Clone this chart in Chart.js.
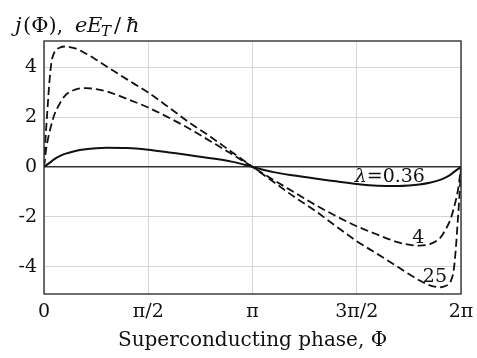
<!DOCTYPE html>
<html>
<head>
<meta charset="utf-8">
<script src="https://cdn.jsdelivr.net/npm/chart.js@4.4.0/dist/chart.umd.min.js"></script>
<style>
  html, body { margin: 0; padding: 0; background: #fff; }
  #wrap { width: 477px; height: 358px; }
</style>
</head>
<body>
<div id="wrap"><canvas id="chart" width="477" height="358"></canvas></div>
<script>
// phase in units of pi (0 .. 2)
const phase = [0, 0.005, 0.01, 0.015, 0.025, 0.035, 0.05, 0.075, 0.1, 0.15, 0.2, 0.25, 0.3, 0.4, 0.5, 0.6, 0.7, 0.8, 0.9, 1.0,
  1.1, 1.2, 1.3, 1.4, 1.5, 1.6, 1.7, 1.75, 1.8, 1.85, 1.9, 1.925, 1.95, 1.965, 1.975, 1.985, 1.99, 1.995, 2.0];

const lambda036 = [0, 0.03, 0.06, 0.09, 0.15, 0.21, 0.31, 0.43, 0.52, 0.64, 0.71, 0.75, 0.77, 0.76, 0.69, 0.58, 0.47, 0.35, 0.21, 0,
  -0.21, -0.35, -0.47, -0.58, -0.69, -0.76, -0.77, -0.75, -0.71, -0.64, -0.52, -0.43, -0.31, -0.21, -0.15, -0.09, -0.06, -0.03, 0];

const lambda4 = [0, 0.35, 0.7, 0.95, 1.35, 1.68, 2.1, 2.53, 2.85, 3.1, 3.16, 3.12, 3.03, 2.72, 2.38, 1.97, 1.52, 1.02, 0.52, 0,
  -0.52, -1.02, -1.52, -1.97, -2.38, -2.72, -3.03, -3.12, -3.16, -3.1, -2.85, -2.53, -2.1, -1.68, -1.35, -0.95, -0.7, -0.35, 0];

const lambda25 = [0, 0.83, 1.5, 2.1, 3.3, 4.15, 4.6, 4.78, 4.83, 4.75, 4.55, 4.3, 4.03, 3.5, 2.98, 2.38, 1.76, 1.2, 0.6, 0,
  -0.6, -1.2, -1.76, -2.38, -2.98, -3.5, -4.03, -4.3, -4.55, -4.75, -4.83, -4.78, -4.6, -4.15, -3.3, -2.1, -1.5, -0.83, 0];

const xTickValues = [0, 0.5, 1, 1.5, 2];
const xTickLabels = ['0', 'π/2', 'π', '3π/2', '2π'];
const yTickValues = [-4, -2, 0, 2, 4];

const FONT = '"DejaVu Serif", "Liberation Serif", serif';

function pts(values) {
  return phase.map((p, i) => ({ x: p, y: values[i] }));
}

const decorations = {
  id: 'decorations',
  afterDraw(chart) {
    const { ctx, chartArea, scales } = chart;
    ctx.save();
    // frame
    ctx.strokeStyle = '#333';
    ctx.lineWidth = 1.4;
    ctx.strokeRect(chartArea.left, chartArea.top, chartArea.right - chartArea.left, chartArea.bottom - chartArea.top);

    // y-axis title: j(Φ), eE_T/ħ  (pieces placed one by one, math-style spacing)
    ctx.fillStyle = '#111';
    ctx.textBaseline = 'alphabetic';
    const base = 32;
    const parts = [
      ['italic', 'j', 15, 0, 21],
      ['normal', '(Φ),', 23, 0, 21],
      ['italic', 'e', 75, 0, 21],
      ['italic', 'E', 87, 0, 21],
      ['italic', 'T', 101, 4, 15],
      ['normal', '/', 114, 0, 21],
      ['italic', 'ħ', 126, 0, 21],
    ];
    parts.forEach(([style, txt, px, dy, size]) => {
      ctx.font = `${style} ${size}px ${FONT}`;
      ctx.fillText(txt, px, base + dy);
    });

    // curve labels
    const xs = scales.x, ys = scales.y;
    ctx.textAlign = 'left';
    let lx = xs.getPixelForValue(1.49);
    const ly = ys.getPixelForValue(-0.62);
    ctx.font = `italic 19px ${FONT}`;
    ctx.fillText('λ', lx, ly);
    lx += ctx.measureText('λ').width;
    ctx.font = `19px ${FONT}`;
    ctx.fillText('=0.36', lx, ly);

    ctx.textAlign = 'center';
    ctx.fillText('4', xs.getPixelForValue(1.795), ys.getPixelForValue(-3.07));
    ctx.fillText('25', xs.getPixelForValue(1.875), ys.getPixelForValue(-4.6));
    ctx.restore();
  }
};

const ctx = document.getElementById('chart');
new Chart(ctx, {
  type: 'line',
  data: {
    datasets: [
      { label: 'λ=0.36', data: pts(lambda036), borderColor: '#111', borderWidth: 2 },
      { label: '4', data: pts(lambda4), borderColor: '#111', borderWidth: 1.8, borderDash: [8, 4] },
      { label: '25', data: pts(lambda25), borderColor: '#111', borderWidth: 1.8, borderDash: [8, 4] },
    ],
  },
  options: {
    responsive: false,
    animation: false,
    devicePixelRatio: 1,
    layout: { padding: { top: 41, right: 0, left: 0, bottom: 0 } },
    elements: { point: { radius: 0 }, line: { cubicInterpolationMode: 'monotone', fill: false } },
    plugins: { legend: { display: false }, tooltip: { enabled: false } },
    scales: {
      x: {
        type: 'linear',
        min: 0,
        max: 2,
        afterBuildTicks: (s) => { s.ticks = xTickValues.map((v) => ({ value: v })); },
        afterFit: (s) => { s.height = 64; s.paddingRight = 16; s.paddingLeft = 0; },
        grid: { color: '#d6d6d6', lineWidth: 1, drawTicks: false },
        border: { display: false },
        ticks: {
          padding: 7,
          color: '#111',
          font: { family: FONT, size: 19 },
          maxRotation: 0,
          callback: (v, i) => xTickLabels[i],
        },
        title: {
          display: true,
          text: 'Superconducting phase, Φ',
          color: '#111',
          font: { family: FONT, size: 20 },
          padding: { top: 0, bottom: 5 },
        },
      },
      y: {
        min: -5.1,
        max: 5.05,
        afterBuildTicks: (s) => { s.ticks = yTickValues.map((v) => ({ value: v })); },
        afterFit: (s) => { s.width = 44; },
        grid: {
          color: (c) => (c.tick && c.tick.value === 0 ? '#333' : '#d6d6d6'),
          lineWidth: (c) => (c.tick && c.tick.value === 0 ? 1.4 : 1),
          drawTicks: false,
        },
        border: { display: false },
        ticks: {
          padding: 7,
          color: '#111',
          font: { family: FONT, size: 19 },
          callback: (v) => String(v),
        },
      },
    },
  },
  plugins: [decorations],
});
</script>
</body>
</html>
